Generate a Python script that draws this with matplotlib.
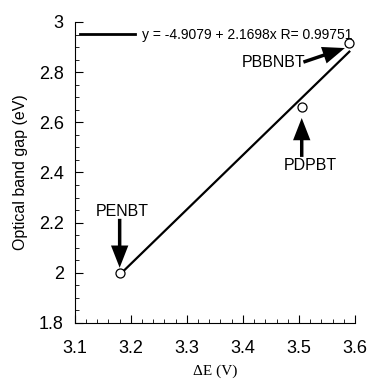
import matplotlib
matplotlib.use('Agg')
import matplotlib.pyplot as plt
import numpy as np
from matplotlib.ticker import MultipleLocator, FuncFormatter

plt.rcParams['font.family'] = ['Liberation Sans', 'DejaVu Sans']

# data
delta_e = [3.18, 3.505, 3.59]
band_gap = [2.0, 2.66, 2.915]
names = ['PENBT', 'PDPBT', 'PBBNBT']
fit_a = -4.9079
fit_b = 2.1698
fit_label = 'y = -4.9079 + 2.1698x R= 0.99751'

# label positions and arrow tails / tips (data coords)
label_pos = [(3.184, 2.246), (3.52, 2.426), (3.455, 2.837)]
arrow_tail = [(3.18, 2.215), (3.505, 2.462), (3.508, 2.84)]
arrow_tip = [(3.18, 2.02), (3.505, 2.617), (3.582, 2.896)]

fig = plt.figure(figsize=(3.78, 3.79), dpi=100)
ax = fig.add_axes([0.198, 0.148, 0.741, 0.794])

x_fit = np.array([delta_e[0], delta_e[-1]])
ax.plot(x_fit, fit_a + fit_b * x_fit, color='black', linewidth=1.6, label=fit_label)
ax.plot(delta_e, band_gap, 'o', markersize=6.5, markerfacecolor='white',
        markeredgecolor='black', markeredgewidth=0.9, zorder=3)

arrow = dict(arrowstyle='simple,head_length=1.6,head_width=1.25,tail_width=0.25',
             color='black', lw=0, shrinkA=0, shrinkB=0, mutation_scale=10)
for name, lp, tail, tip in zip(names, label_pos, arrow_tail, arrow_tip):
    ax.annotate('', xy=tip, xytext=tail, arrowprops=arrow)
    ax.text(lp[0], lp[1], name, ha='center', va='center', fontsize=11.5)

ax.set_xlim(3.1, 3.6)
ax.set_ylim(1.8, 3.0)
ax.xaxis.set_major_locator(MultipleLocator(0.1))
ax.xaxis.set_minor_locator(MultipleLocator(0.02))
ax.yaxis.set_major_locator(MultipleLocator(0.2))
ax.yaxis.set_minor_locator(MultipleLocator(0.05))
ax.yaxis.set_major_formatter(FuncFormatter(lambda v, p: '%g' % round(v, 2)))
ax.tick_params(which='both', direction='in', labelsize=13)
ax.tick_params(axis='y', which='major', length=6, pad=8)
ax.tick_params(axis='x', which='major', length=6, pad=12)
ax.tick_params(which='minor', length=3)
ax.spines['top'].set_visible(False)
ax.spines['right'].set_visible(False)

ax.set_xlabel('ΔE (V)', family='Liberation Serif', fontsize=11, labelpad=6)
ax.set_ylabel('Optical band gap (eV)', fontsize=11.5, labelpad=8)

leg = ax.legend(loc='upper left', frameon=False, fontsize=10, handlelength=3.9,
                borderaxespad=0.1, handletextpad=0.5, borderpad=0.3,
                bbox_to_anchor=(0.0, 1.0))
for line in leg.get_lines():
    line.set_linewidth(2)

fig.savefig('out.png', dpi=100)
